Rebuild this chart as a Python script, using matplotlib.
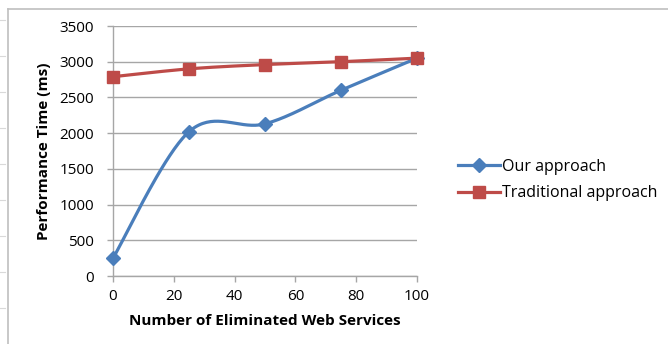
import numpy as np
import matplotlib
matplotlib.use("Agg")
import matplotlib.pyplot as plt
from matplotlib.lines import Line2D

eliminated = [0, 25, 50, 75, 100]
our_approach = [250, 2020, 2130, 2600, 3050]
traditional = [2790, 2900, 2960, 3000, 3050]
x_ticks = [0, 20, 40, 60, 80, 100]
y_ticks = [0, 500, 1000, 1500, 2000, 2500, 3000, 3500]

BLUE = "#4A7EBB"
RED = "#BE4B48"
GRID = "#A6A6A6"
FONT = ["Open Sans", "DejaVu Sans"]


def smooth(xs, ys, n=40):
    """Catmull-Rom style cubic Bezier smoothing through the points."""
    xs = np.asarray(xs, float)
    ys = np.asarray(ys, float)
    px = np.concatenate([[xs[0]], xs, [xs[-1]]])
    py = np.concatenate([[ys[0]], ys, [ys[-1]]])
    out_x, out_y = [], []
    t = np.linspace(0, 1, n)
    for i in range(1, len(px) - 2):
        p0 = np.array([px[i], py[i]])
        p3 = np.array([px[i + 1], py[i + 1]])
        c1 = p0 + (np.array([px[i + 1], py[i + 1]]) - np.array([px[i - 1], py[i - 1]])) / 6
        c2 = p3 - (np.array([px[i + 2], py[i + 2]]) - np.array([px[i], py[i]])) / 6
        b = (((1 - t) ** 3)[:, None] * p0 + (3 * (1 - t) ** 2 * t)[:, None] * c1
             + (3 * (1 - t) * t ** 2)[:, None] * c2 + (t ** 3)[:, None] * p3)
        out_x.extend(b[:, 0])
        out_y.extend(b[:, 1])
    return np.array(out_x), np.array(out_y)


fig = plt.figure(figsize=(6.68, 3.44), dpi=100)
fig.patch.set_facecolor("white")

# chart frame
fig.add_artist(Line2D([7.5 / 668, 7.5 / 668], [0, 1 - 9 / 344], color="#BFBFBF", lw=1.2,
                      transform=fig.transFigure))
fig.add_artist(Line2D([7.5 / 668, 1], [1 - 9 / 344, 1 - 9 / 344], color="#BFBFBF", lw=1.2,
                      transform=fig.transFigure))
for yy in np.arange(20, 344, 36):
    fig.add_artist(Line2D([0, 5 / 668], [1 - yy / 344] * 2, color="#D9D9D9", lw=0.8,
                          transform=fig.transFigure))

ax = fig.add_axes([113 / 668, 1 - 276 / 344, (417 - 113) / 668, (276 - 26) / 344])
ax.set_xlim(0, 100)
ax.set_ylim(0, 3500)
ax.set_xticks(x_ticks)
ax.set_yticks(y_ticks)
ax.grid(axis="y", color=GRID, lw=1.0)
ax.set_axisbelow(True)
for s in ["top", "right"]:
    ax.spines[s].set_visible(False)
for s in ["left", "bottom"]:
    ax.spines[s].set_color(GRID)
    ax.spines[s].set_linewidth(1.0)
ax.tick_params(axis="both", colors=GRID, labelcolor="black", length=4.5, width=1.0,
               labelsize=11)
ax.tick_params(axis="x", pad=5)
ax.tick_params(axis="y", pad=9)
for lab in ax.get_xticklabels() + ax.get_yticklabels():
    lab.set_family(FONT)

sx, sy = smooth(eliminated, our_approach)
ax.plot(sx, sy, color=BLUE, lw=2.3, clip_on=False, zorder=3)
ax.plot(eliminated, our_approach, ls="none", marker="D", ms=7, color=BLUE,
        clip_on=False, zorder=4)
tx, ty = smooth(eliminated, traditional)
ax.plot(tx, ty, color=RED, lw=2.3, clip_on=False, zorder=3)
ax.plot(eliminated, traditional, ls="none", marker="s", ms=9, color=RED,
        clip_on=False, zorder=5)

ax.set_xlabel("Number of Eliminated Web Services", fontsize=11, fontweight="bold",
              family=FONT, va="center")
ax.xaxis.set_label_coords((265 - 113) / 304, -(321 - 276) / 250)
ax.set_ylabel("Performance Time (ms)", fontsize=11, fontweight="bold", family=FONT,
              va="center")
ax.yaxis.set_label_coords(-(113 - 44) / 304, 0.5)

handles = [Line2D([], [], color=BLUE, lw=2.3, marker="D", ms=7),
           Line2D([], [], color=RED, lw=2.3, marker="s", ms=9)]
fig.legend(handles, ["Our approach", "Traditional approach"], loc="upper left",
           bbox_to_anchor=(458 / 668, 1 - 159 / 344), frameon=False,
           prop={"family": FONT, "size": 11.5}, handlelength=2.6, handletextpad=0.15,
           labelspacing=0.65, borderaxespad=0, borderpad=0)

fig.savefig("out.png", dpi=100, facecolor="white")
